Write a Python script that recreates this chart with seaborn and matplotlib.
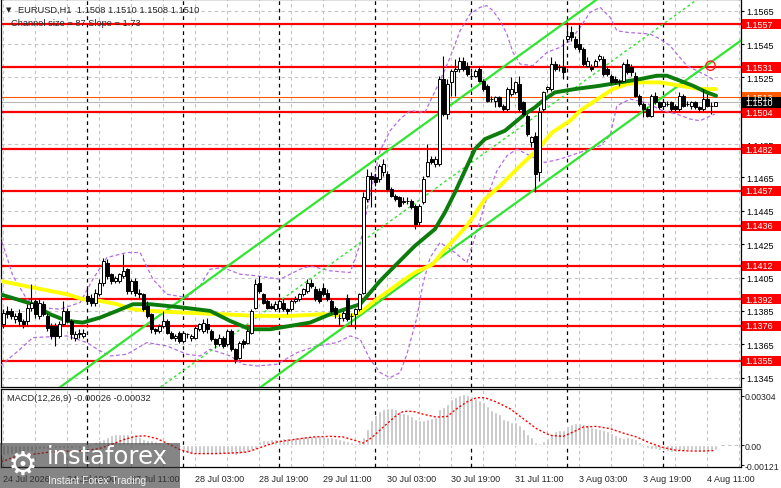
import numpy as np
import matplotlib
matplotlib.use("Agg")
import matplotlib.pyplot as plt
import seaborn as sns
from matplotlib.patches import Rectangle
from matplotlib.transforms import blended_transform_factory

## EURUSD H1 candles (bar 0 = 24 Jul 03:00)
opens = [1.1377,1.1385,1.1385,1.1380,1.1384,1.1379,1.1379,1.1387,1.1391,1.1382,
         1.1389,1.1382,1.1376,1.1376,1.1370,1.1377,1.1385,1.1379,1.1369,1.1371,
         1.1370,1.1394,1.1393,1.1390,1.1395,1.1402,1.1414,1.1407,1.1403,1.1403,
         1.1406,1.1410,1.1397,1.1403,1.1396,1.1395,1.1388,1.1383,1.1374,1.1373,
         1.1376,1.1379,1.1372,1.1369,1.1372,1.1367,1.1371,1.1369,1.1369,1.1374,
         1.1373,1.1377,1.1373,1.1368,1.1365,1.1369,1.1365,1.1373,1.1362,1.1357,
         1.1367,1.1366,1.1372,1.1387,1.1402,1.1395,1.1391,1.1388,1.1386,1.1387,
         1.1390,1.1386,1.1386,1.1391,1.1392,1.1395,1.1397,1.1402,1.1398,1.1397,
         1.1399,1.1396,1.1391,1.1387,1.1381,1.1381,1.1393,1.1382,1.1383,1.1386,
         1.1396,1.1452,1.1466,1.1465,1.1464,1.1468,1.1467,1.1458,1.1454,1.1453,
         1.1450,1.1451,1.1451,1.1448,1.1438,1.1450,1.1466,1.1476,1.1473,1.1473,
         1.1524,1.1503,1.1522,1.1529,1.1530,1.1535,1.1532,1.1526,1.1526,1.1530,
         1.1523,1.1520,1.1512,1.1511,1.1513,1.1508,1.1506,1.1515,1.1516,1.1521,
         1.1510,1.1502,1.1486,1.1490,1.1468,1.1506,1.1518,1.1518,1.1533,1.1531,
         1.1531,1.1548,1.1552,1.1548,1.1545,1.1542,1.1532,1.1531,1.1532,1.1536,
         1.1536,1.1530,1.1526,1.1524,1.1522,1.1523,1.1533,1.1531,1.1526,1.1514,
         1.1509,1.1506,1.1502,1.1514,1.1510,1.1508,1.1509,1.1510,1.1508,1.1506,
         1.1514,1.1509,1.1508,1.1510,1.1507,1.1506,1.1512,1.1508,1.1508]
highs = [1.1386,1.1388,1.1387,1.1384,1.1386,1.1380,1.1389,1.1401,1.1393,1.1392,
         1.1391,1.1384,1.1378,1.1378,1.1379,1.1391,1.1387,1.1380,1.1373,1.1374,
         1.1374,1.1399,1.1395,1.1398,1.1404,1.1417,1.1416,1.1408,1.1406,1.1408,
         1.1419,1.1411,1.1404,1.1405,1.1398,1.1396,1.1391,1.1384,1.1375,1.1377,
         1.1385,1.1380,1.1373,1.1371,1.1373,1.1373,1.1372,1.1371,1.1376,1.1378,
         1.1380,1.1381,1.1374,1.1369,1.1371,1.1370,1.1374,1.1374,1.1363,1.1367,
         1.1368,1.1374,1.1386,1.1404,1.1406,1.1396,1.1392,1.1390,1.1391,1.1393,
         1.1392,1.1387,1.1392,1.1394,1.1396,1.1399,1.1404,1.1404,1.1400,1.1399,
         1.1402,1.1398,1.1393,1.1388,1.1383,1.1385,1.1395,1.1384,1.1387,1.1396,
         1.1456,1.1470,1.1468,1.1467,1.1473,1.1476,1.1469,1.1459,1.1455,1.1454,
         1.1453,1.1453,1.1452,1.1449,1.1449,1.1466,1.1485,1.1478,1.1478,1.1526,
         1.1538,1.1524,1.1530,1.1536,1.1537,1.1537,1.1534,1.1528,1.1530,1.1532,
         1.1524,1.1521,1.1514,1.1514,1.1514,1.1509,1.1519,1.1525,1.1523,1.1526,
         1.1511,1.1503,1.1490,1.1492,1.1507,1.1517,1.1520,1.1537,1.1535,1.1533,
         1.1548,1.1558,1.1556,1.1550,1.1557,1.1543,1.1537,1.1533,1.1536,1.1539,
         1.1538,1.1532,1.1527,1.1526,1.1524,1.1534,1.1536,1.1533,1.1528,1.1515,
         1.1510,1.1507,1.1515,1.1516,1.1511,1.1511,1.1511,1.1511,1.1509,1.1516,
         1.1515,1.1511,1.1511,1.1511,1.1508,1.1518,1.1515,1.1510,1.1510]
lows = [1.1375,1.1381,1.1380,1.1378,1.1376,1.1375,1.1376,1.1385,1.1381,1.1380,
        1.1382,1.1373,1.1368,1.1364,1.1369,1.1376,1.1378,1.1368,1.1367,1.1369,
        1.1369,1.1389,1.1388,1.1388,1.1394,1.1400,1.1404,1.1401,1.1402,1.1402,
        1.1405,1.1395,1.1395,1.1394,1.1393,1.1385,1.1381,1.1372,1.1371,1.1372,
        1.1375,1.1371,1.1368,1.1367,1.1366,1.1366,1.1369,1.1367,1.1368,1.1373,
        1.1372,1.1372,1.1367,1.1363,1.1364,1.1363,1.1364,1.1361,1.1354,1.1356,
        1.1363,1.1365,1.1371,1.1386,1.1396,1.1389,1.1386,1.1386,1.1385,1.1386,
        1.1385,1.1383,1.1385,1.1390,1.1391,1.1394,1.1396,1.1399,1.1391,1.1390,
        1.1394,1.1391,1.1384,1.1381,1.1376,1.1379,1.1379,1.1376,1.1374,1.1385,
        1.1395,1.1450,1.1447,1.1460,1.1462,1.1466,1.1457,1.1453,1.1451,1.1447,
        1.1449,1.1449,1.1446,1.1434,1.1436,1.1449,1.1465,1.1473,1.1471,1.1472,
        1.1502,1.1500,1.1514,1.1514,1.1528,1.1529,1.1526,1.1524,1.1525,1.1522,
        1.1517,1.1510,1.1510,1.1507,1.1507,1.1505,1.1505,1.1514,1.1515,1.1505,
        1.1502,1.1490,1.1483,1.1456,1.1463,1.1504,1.1516,1.1517,1.1529,1.1529,
        1.1524,1.1546,1.1547,1.1542,1.1540,1.1532,1.1531,1.1529,1.1531,1.1535,
        1.1526,1.1526,1.1521,1.1521,1.1520,1.1522,1.1527,1.1526,1.1513,1.1508,
        1.1501,1.1501,1.1501,1.1509,1.1506,1.1507,1.1508,1.1505,1.1505,1.1504,
        1.1507,1.1508,1.1506,1.1506,1.1504,1.1505,1.1507,1.1503,1.1508]
closes = [1.1384,1.1383,1.1382,1.1382,1.1379,1.1377,1.1387,1.1390,1.1383,1.1390,
          1.1383,1.1375,1.1370,1.1370,1.1377,1.1385,1.1379,1.1371,1.1371,1.1372,
          1.1372,1.1391,1.1390,1.1396,1.1402,1.1415,1.1406,1.1403,1.1405,1.1407,
          1.1409,1.1397,1.1403,1.1396,1.1395,1.1386,1.1382,1.1374,1.1373,1.1376,
          1.1379,1.1372,1.1369,1.1370,1.1367,1.1372,1.1371,1.1370,1.1375,1.1377,
          1.1378,1.1374,1.1368,1.1365,1.1369,1.1364,1.1373,1.1362,1.1356,1.1366,
          1.1365,1.1373,1.1385,1.1401,1.1397,1.1390,1.1387,1.1387,1.1389,1.1391,
          1.1386,1.1385,1.1391,1.1392,1.1395,1.1398,1.1402,1.1400,1.1392,1.1391,
          1.1395,1.1392,1.1385,1.1383,1.1381,1.1384,1.1380,1.1382,1.1386,1.1395,
          1.1453,1.1466,1.1464,1.1462,1.1472,1.1473,1.1458,1.1454,1.1452,1.1448,
          1.1451,1.1451,1.1447,1.1437,1.1448,1.1464,1.1474,1.1474,1.1476,1.1524,
          1.1503,1.1521,1.1529,1.1530,1.1535,1.1530,1.1527,1.1526,1.1529,1.1523,
          1.1518,1.1511,1.1512,1.1513,1.1508,1.1506,1.1518,1.1518,1.1522,1.1506,
          1.1503,1.1491,1.1489,1.1467,1.1504,1.1516,1.1519,1.1533,1.1530,1.1531,
          1.1528,1.1550,1.1549,1.1543,1.1542,1.1533,1.1535,1.1530,1.1535,1.1538,
          1.1527,1.1527,1.1522,1.1522,1.1523,1.1533,1.1528,1.1528,1.1514,1.1509,
          1.1506,1.1502,1.1514,1.1510,1.1507,1.1510,1.1509,1.1506,1.1506,1.1514,
          1.1508,1.1509,1.1510,1.1507,1.1506,1.1512,1.1508,1.1508,1.1510]

# moving averages, read at points along the lines (bar, price)
ma_green_bar = [-0.8,7.4,11.7,15.9,19.9,24.2,28.4,32.4,36.7,40.9,44.9,51.7,56.7,61.7,66.7,
                71.7,76.7,81.7,86.7,89.2,91.7,94.2,97.9,102.9,107.9,110.4,112.9,115.4,117.9,120.4,
                125.4,127.9,130.4,132.9,135.4,137.9,142.9,149.2,154.2,159.2,163.4,165.9,169.2,172.4,175.9,178.2]
ma_green = [1.1395,1.1389,1.1383,1.1379,1.1378,1.1381,1.1385,1.1389,1.1389,1.1388,1.1387,1.1385,1.1379,1.1374,1.1374,
            1.1376,1.1378,1.1383,1.1387,1.1389,1.1396,1.1403,1.1412,1.1424,1.1434,1.1444,1.1456,1.1469,1.1482,1.1488,
            1.1493,1.1498,1.1503,1.1507,1.1512,1.1516,1.1518,1.1520,1.1522,1.1524,1.1526,1.1526,1.1523,1.1520,1.1516,1.1514]
ma_yellow_bar = [-0.8,7.4,15.9,19.9,24.2,28.4,32.4,36.7,44.9,54.9,63.4,71.7,79.9,86.7,89.2,93.4,
                 99.2,102.9,107.4,109.7,115.9,120.4,124.2,129.2,133.7,137.2,141.7,144.2,149.2,152.4,
                 155.9,159.2,164.2,169.2,174.2,178.2]
ma_yellow = [1.1403,1.1399,1.1395,1.1392,1.1391,1.1389,1.1386,1.1385,1.1384,1.1383,1.1382,1.1382,1.1383,1.1382,1.1384,1.1392,
             1.1402,1.1408,1.1413,1.1420,1.1436,1.1452,1.1460,1.1472,1.1482,1.1492,1.1499,1.1505,1.1513,1.1518,
             1.1521,1.1522,1.1522,1.1520,1.1518,1.1518]

# purple dashed bands (bar, price)
band_up_bar = [-0.8,2.4,5.9,9.2,14.2,19.2,22.4,25.9,30.9,34.2,37.4,40.9,45.9,49.2,51.7,54.9,59.2,63.4,
               69.2,74.2,76.7,81.7,86.7,89.2,91.7,94.2,96.7,99.2,101.7,105.4,109.2,111.7,114.2,116.7,
               119.2,120.9,122.4,124.2,125.9,127.4,129.2,132.4,135.9,139.2,141.7,144.2,146.7,149.2,151.7,
               153.4,155.9,161.7,164.2,166.7,168.4,170.9,173.4,175.9,177.9]
band_up = [1.1430,1.1406,1.1392,1.1387,1.1386,1.1390,1.1404,1.1417,1.1420,1.1420,1.1404,1.1395,1.1393,1.1400,1.1410,1.1411,1.1407,1.1406,
           1.1404,1.1410,1.1412,1.1409,1.1408,1.1425,1.1455,1.1481,1.1493,1.1500,1.1505,1.1504,1.1523,1.1537,1.1553,1.1563,
           1.1567,1.1568,1.1565,1.1559,1.1551,1.1540,1.1533,1.1532,1.1540,1.1543,1.1547,1.1555,1.1564,1.1567,1.1561,
           1.1553,1.1552,1.1551,1.1548,1.1544,1.1539,1.1532,1.1529,1.1526,1.1523]
band_lo_bar = [-0.8,4.2,7.4,15.9,20.9,24.2,26.7,30.9,35.9,40.9,45.9,49.2,51.7,56.7,59.9,63.4,68.4,73.4,
               78.4,83.4,86.7,89.2,91.7,94.2,96.7,99.2,100.9,103.4,104.9,106.7,109.2,112.9,115.9,118.4,
               120.9,123.4,125.9,128.4,131.7,135.4,139.2,142.9,149.2,151.7,153.4,156.7,160.4,164.9,168.4,
               171.7,174.2,175.9,177.9]
band_lo = [1.1352,1.1362,1.1369,1.1370,1.1366,1.1361,1.1358,1.1359,1.1366,1.1364,1.1359,1.1358,1.1362,1.1358,1.1353,1.1352,1.1353,1.1360,
           1.1364,1.1366,1.1370,1.1368,1.1356,1.1348,1.1345,1.1348,1.1359,1.1381,1.1401,1.1417,1.1426,1.1420,1.1414,1.1433,
           1.1453,1.1469,1.1478,1.1482,1.1478,1.1474,1.1476,1.1479,1.1484,1.1490,1.1508,1.1512,1.1510,1.1505,1.1503,
           1.1500,1.1499,1.1501,1.1503]

# equidistant channel, two anchor points per line (bar, price)
chan_top = [(14.6, 1.1340), (178.0, 1.1623)]
chan_bot = [(65.9, 1.1342), (178.0, 1.1536)]
alert_mark = (176.8, 1.1532)

levels = [1.1557, 1.1531, 1.1504, 1.1482, 1.1457, 1.1436, 1.1412, 1.1392, 1.1376, 1.1355]
ask_price = 1.1513
bid_price = 1.1510
price_ticks = [1.1345, 1.1365, 1.1385, 1.1405, 1.1425, 1.1445, 1.1465, 1.1485, 1.1505, 1.1525, 1.1545, 1.1565]
hidden_ticks = [1.1505]  # fully covered by the 1.1504 tag

# MACD(12,26,9) histogram in 1e-5 units, one per bar
macd_hist = [-60,-56,-52,-48,-44,-40,-36,-32,-28,-25,-22,-20,-19,-18,-19,-18,-16,-14,-13,-14,
             -15,-14,2,20,35,41,51,61,67,67,71,67,61,55,51,41,35,31,27,20,
             14,10,6,0,-10,-31,-47,-51,-51,-51,-51,-51,-51,-51,-51,-51,-51,-55,-57,-51,
             -47,-41,-31,-20,27,35,35,39,41,41,45,47,47,51,51,55,55,55,55,55,
             55,51,51,47,41,31,27,20,14,20,51,102,153,184,210,224,231,226,220,208,
             198,194,180,159,153,157,163,169,173,220,235,255,282,296,306,312,308,300,290,279,
             265,241,214,204,190,159,153,143,143,122,102,71,51,20,14,27,47,71,86,96,
             96,116,129,137,139,133,122,112,108,102,96,86,75,65,51,45,51,45,37,20,
             2,-14,-20,-24,-31,-31,-35,-41,-41,-37,-35,-31,-31,-31,-31,-31,-31,-29,-26]
sig_bar = [-0.5,3.3,7.5,11.7,17.0,21.0,24.0,26.7,30.0,33.0,35.5,38.3,41.0,44.0,47.5,53.0,57.5,61.0,64.0,68.3,
           72.5,77.5,81.7,85.0,88.3,90.0,92.0,95.0,98.3,100.0,102.5,105.0,108.3,111.0,113.3,115.8,118.3,120.4,
           123.3,126.7,130.0,133.3,136.7,140.0,142.5,145.0,148.3,151.7,155.0,158.3,161.7,165.0,168.3,171.7,175.0,178.0]
sig_val = [-102,-67,-55,-41,-35,-31,-20,2,34,55,58,42,12,-25,-51,-51,-47,-41,-16,20,
           35,51,55,51,27,14,45,112,184,208,208,190,173,177,224,265,292,292,
           265,224,163,102,61,55,82,112,116,102,75,51,14,-14,-31,-35,-35,-32]

date_ticks = [0, 16, 32, 48, 64, 80, 96, 112, 128, 144, 160, 176]
date_labels = ["24 Jul 2026", "24 Jul 19:00", "27 Jul 11:00", "28 Jul 03:00", "28 Jul 19:00",
               "29 Jul 11:00", "30 Jul 03:00", "30 Jul 19:00", "31 Jul 11:00", "3 Aug 03:00",
               "3 Aug 19:00", "4 Aug 11:00"]
day_starts = [21, 45, 69, 93, 117, 141, 165]

sns.set_style("white")
plt.rcParams['font.family'] = ['Liberation Sans', 'DejaVu Sans']

W, H = 781, 489
fig = plt.figure(figsize=(W / 100, H / 100), dpi=100)
ax = fig.add_axes([1 / W, 1 - 388 / H, 740 / W, 388 / H])
ax2 = fig.add_axes([1 / W, 1 - 468 / H, 740 / W, 78 / H])

x_lim = (-0.575, 184.425)
y_lim = (1.133938, 1.157199)
m_lim = (-0.00133, 0.003452)

# grid + day separators
for a in (ax, ax2):
    for b in range(0, 185, 8):
        a.axvline(b, color='#c4c4c4', lw=0.8, ls=(0, (3, 3)), zorder=1)
    for b in day_starts:
        a.axvline(b, color='black', lw=0.9, ls=(0, (3, 3)), zorder=1.5)
for t in price_ticks:
    ax.axhline(t, color='#c4c4c4', lw=0.8, ls=(0, (3, 3)), zorder=1)

# support / resistance levels
for lv in levels:
    ax.axhline(lv, color='#ff0000', lw=1.6, zorder=2)
ax.axhline(ask_price, color='#ff5a00', lw=0.8, zorder=2)
ax.axhline(bid_price, color='#b8b8b8', lw=0.8, zorder=2)

# bands
sns.lineplot(x=band_up_bar, y=band_up, ax=ax, color='#b36ee0', lw=0.9, linestyle=(0, (3, 2)), zorder=3)
sns.lineplot(x=band_lo_bar, y=band_lo, ax=ax, color='#b36ee0', lw=0.9, linestyle=(0, (3, 2)), zorder=3)

# channel
s_top = (chan_top[1][1] - chan_top[0][1]) / (chan_top[1][0] - chan_top[0][0])
s_bot = (chan_bot[1][1] - chan_bot[0][1]) / (chan_bot[1][0] - chan_bot[0][0])
ax.axline(chan_top[0], chan_top[1], color='#2ee62e', lw=1.6, zorder=4)
ax.axline(chan_bot[0], chan_bot[1], color='#2ee62e', lw=1.6, zorder=4)
mid = (chan_top[1][0], (chan_top[1][1] + chan_bot[1][1]) / 2)
ax.axline(mid, slope=(s_top + s_bot) / 2, color='#2ee62e', lw=1.0, ls=(0, (2, 2)), zorder=4)

# moving averages
sns.lineplot(x=ma_yellow_bar, y=ma_yellow, ax=ax, color='#ffff00', lw=2.8, zorder=4.5)
sns.lineplot(x=ma_green_bar, y=ma_green, ax=ax, color='#0c7c0c', lw=2.8, zorder=4.6)

# candles
bars = np.arange(len(opens))
o = np.array(opens); c = np.array(closes)
ax.vlines(bars, lows, highs, color='black', lw=0.8, zorder=5)
body_col = np.where(c >= o, 'white', 'black')
ax.bar(bars, np.abs(c - o), bottom=np.minimum(o, c), width=0.6, color=body_col,
       edgecolor='black', linewidth=0.7, zorder=6)

ax.scatter([alert_mark[0]], [alert_mark[1]], s=45, facecolors='none', edgecolors='#ff2020',
           linewidths=1.0, zorder=7)

ax.set_xlim(*x_lim)
ax.set_ylim(*y_lim)
ax.set_xlabel(''); ax.set_ylabel('')
ax.yaxis.tick_right()
ax.set_yticks(price_ticks)
ax.set_yticklabels(['' if t in hidden_ticks else f'{t:.4f}' for t in price_ticks])
ax.tick_params(axis='y', labelsize=6.5, length=2.5, width=0.8, pad=1, direction='out', colors='black')
ax.tick_params(axis='x', bottom=False, labelbottom=False)

# price tags on the right scale
trans = blended_transform_factory(fig.transFigure, ax.transData)
ppu = 388 / (y_lim[1] - y_lim[0])


def price_tag(lv, face, txt='white'):
    ax.add_patch(Rectangle((742 / W, lv - 5.2 / ppu), 39 / W, 10.4 / ppu, transform=trans,
                           fc=face, ec='none', clip_on=False, zorder=20))
    ax.text(745 / W, lv, f'{lv:.4f}', transform=trans, color=txt, fontsize=6.5,
            va='center', ha='left', clip_on=False, zorder=21)


for lv in levels:
    price_tag(lv, '#ff0000')
price_tag(ask_price, '#ff5a00')
price_tag(bid_price, 'black')

# MACD panel
ax2.axhline(0, color='#c4c4c4', lw=0.8, ls=(0, (3, 3)), zorder=1)
ax2.bar(bars, np.array(macd_hist) * 1e-5, width=0.72, color='#c0c0c0', zorder=3)
sns.lineplot(x=sig_bar, y=np.array(sig_val) * 1e-5, ax=ax2, color='#ff0000', lw=1.0,
             linestyle=(0, (1.5, 1.5)), zorder=4)
ax2.set_xlim(*x_lim)
ax2.set_ylim(*m_lim)
ax2.set_xlabel(''); ax2.set_ylabel('')
ax2.yaxis.tick_right()
ax2.set_yticks([0.00304, 0.0, -0.00121])
ax2.set_yticklabels(['0.00304', '0.00', '-0.00121'])
ax2.tick_params(axis='y', labelsize=6.3, length=2, width=0.8, pad=0.5, direction='out')
ax2.get_yticklabels()[2].set_y(-0.0009)
ax2.set_xticks(date_ticks)
ax2.set_xticklabels(date_labels, ha='left')
ax2.tick_params(axis='x', labelsize=6.5, length=3, width=0.8, pad=2, direction='out')

for a in (ax, ax2):
    for sp in a.spines.values():
        sp.set_visible(True)
        sp.set_color('black')
        sp.set_linewidth(0.9)

# header texts
fig.text(6 / W, 1 - 10 / H, '▼', fontsize=5, va='center', ha='left', family='DejaVu Sans')
fig.text(18 / W, 1 - 10 / H, 'EURUSD,H1  1.1508 1.1510 1.1508 1.1510', fontsize=6.7, va='center', ha='left')
fig.text(11 / W, 1 - 23 / H, 'Channel size = 87 Slope = 1.73', fontsize=6.7, va='center', ha='left')
fig.text(7 / W, 1 - 399 / H, 'MACD(12,26,9) -0.00026 -0.00032', fontsize=6.7, va='center', ha='left')

# watermark
fig.add_artist(Rectangle((0, 0), 180 / W, 45 / H, transform=fig.transFigure, fc='#3a3a3a',
                         alpha=0.62, ec='none', zorder=50))
fig.text(23 / W, 1 - 465 / H, '⚙', fontsize=24, color='white', ha='center', va='center',
         family='DejaVu Sans', zorder=51)
fig.text(47 / W, 1 - 457 / H, 'instaforex', fontsize=17.5, color='white', ha='left', va='center',
         family='DejaVu Sans', zorder=51)
fig.text(48 / W, 1 - 481 / H, 'Instant Forex Trading', fontsize=7.5, color='#eeeeee', ha='left',
         va='center', zorder=51)

fig.savefig('out.png', dpi=100)
